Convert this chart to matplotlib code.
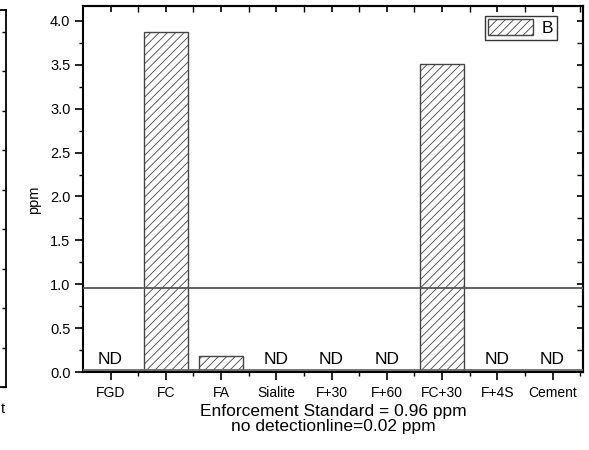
import matplotlib
matplotlib.use("Agg")
import matplotlib.pyplot as plt
from matplotlib.ticker import MultipleLocator, FixedLocator
import numpy as np

plt.rcParams['font.family'] = ['Liberation Sans', 'DejaVu Sans']
plt.rcParams['hatch.linewidth'] = 0.6
plt.rcParams['hatch.color'] = '#111111'

categories = ["FGD", "FC", "FA", "Sialite", "F+30", "F+60", "FC+30", "F+4S", "Cement"]
values = [0.0, 3.87, 0.18, 0.0, 0.0, 0.0, 3.51, 0.0, 0.0]
nd_flags = [True, False, False, True, True, True, False, True, True]
series_name = "B"
standard = 0.96
detection = 0.02
y_ticks = [0.0, 0.5, 1.0, 1.5, 2.0, 2.5, 3.0, 3.5, 4.0]

W, H = 589, 450
fig = plt.figure(figsize=(W / 100, H / 100), dpi=100)

def px(l, t, r, b):
    return [l / W, 1 - b / H, (r - l) / W, (b - t) / H]

# fragment of neighbouring panel on the left
axf = fig.add_axes(px(-200, 10, 5.5, 387))
axf.set_xlim(0, 1)
axf.set_ylim(0, (387 - 10) / 39.5)
axf.set_xticks([])
axf.yaxis.tick_right()
axf.yaxis.set_major_locator(MultipleLocator(1))
axf.tick_params(axis='y', which='major', direction='in', length=3, width=1, labelright=False)
for s in axf.spines.values():
    s.set_linewidth(1.3)
fig.text(4.5 / W, 1 - 413 / H, "t", ha='right', va='baseline', fontsize=10.5)

ax = fig.add_axes(px(83, 6, 583, 372))
x = np.arange(1, len(categories) + 1)
bars = ax.bar(x, values, width=0.8, facecolor='white', edgecolor='#444444',
              linewidth=1.0, hatch='////', label=series_name, zorder=2)
ax.axhline(standard, color='#555555', linewidth=1.3, zorder=3)
ax.axhline(detection, color='#666666', linewidth=1.3, zorder=3)

for xi, nd in zip(x, nd_flags):
    if nd:
        ax.text(xi, 0.06, "ND", ha='center', va='bottom', fontsize=12.5)

ax.set_xlim(0.5, 9.55)
ax.set_ylim(0, 4.17)
ax.set_xticks(x)
ax.set_xticklabels(categories, fontsize=10)
ax.xaxis.set_minor_locator(FixedLocator(np.arange(1.5, 9.6, 1.0)))
ax.set_yticks(y_ticks)
ax.set_yticklabels([f"{v:.1f}" for v in y_ticks], fontsize=10.5)
ax.yaxis.set_minor_locator(MultipleLocator(0.25))
ax.tick_params(axis='both', which='major', direction='out', length=6, width=1.2,
               top=False, right=False, pad=3)
ax.tick_params(axis='both', which='minor', direction='out', length=3, width=1.0,
               top=False, right=False)
ax.tick_params(axis='x', which='major', pad=4)

axt = ax.secondary_xaxis('top')
axt.set_xticks(x)
axt.set_xticklabels([])
axt.xaxis.set_minor_locator(FixedLocator(np.arange(1.5, 9.6, 1.0)))
axt.tick_params(which='major', direction='in', length=4, width=1.2)
axt.tick_params(which='minor', direction='in', length=4, width=1.0)
axr = ax.secondary_yaxis('right')
axr.set_yticks(y_ticks)
axr.set_yticklabels([])
axr.yaxis.set_minor_locator(MultipleLocator(0.25))
axr.tick_params(which='major', direction='in', length=4, width=1.2)
axr.tick_params(which='minor', direction='in', length=4, width=1.0)

for s in ax.spines.values():
    s.set_linewidth(1.5)
axt.spines['top'].set_linewidth(1.5)
axr.spines['right'].set_linewidth(1.5)

ax.set_ylabel("ppm", fontsize=10.5)
ax.yaxis.set_label_coords((41 - 83) / 500, (372 - 200) / 366)
ax.set_xlabel("Enforcement Standard = 0.96 ppm\nno detectionline=0.02 ppm",
              fontsize=12.5, labelpad=3, linespacing=1.0)

leg = ax.legend(loc='upper right', bbox_to_anchor=((557 - 83) / 500, (372 - 16) / 366),
                frameon=True, fancybox=False, fontsize=12.5, handlelength=2.6,
                handleheight=1.0, borderpad=0.2, handletextpad=0.5, borderaxespad=0)
leg.get_frame().set_edgecolor('black')
leg.get_frame().set_linewidth(1.0)

fig.savefig("out.png", dpi=100)
